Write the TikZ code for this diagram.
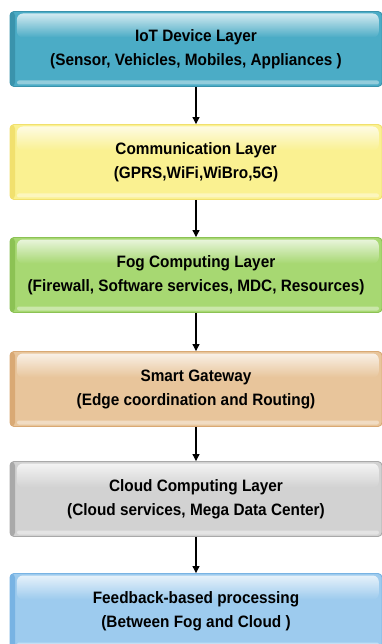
\documentclass[tikz,border=0pt]{standalone}
\usepackage{fontspec}
\setmainfont[FakeStretch=0.93]{Liberation Sans}
\usetikzlibrary{arrows.meta,fadings}

% layer palette: fill / rim
\definecolor{iotfill}{HTML}{4BACC6}\definecolor{iotrim}{HTML}{3A93AC}
\definecolor{comfill}{HTML}{FAF191}\definecolor{comrim}{HTML}{F1E06E}
\definecolor{fogfill}{HTML}{A7D872}\definecolor{fogrim}{HTML}{8CC254}
\definecolor{gwfill}{HTML}{E8C59B}\definecolor{gwrim}{HTML}{D9A974}
\definecolor{cldfill}{HTML}{D2D2D2}\definecolor{cldrim}{HTML}{A9A9A9}
\definecolor{fbfill}{HTML}{9DCBEE}\definecolor{fbrim}{HTML}{78B3E3}

\tikzset{
  layer/.style 2 args={
    draw=#2, fill=#1, line width=0.9pt, rounded corners=4pt,
    minimum width=372pt, minimum height=75pt, inner sep=0pt,
    align=center, text=black,
    font=\fontsize{16.5}{24}\selectfont\bfseries,
    path picture={
      % darker left rim
      \fill[#2] (path picture bounding box.north west) rectangle
        ([xshift=5pt]path picture bounding box.south west);
      % upper gloss
      \fill[white, opacity=0.75, path fading=south, rounded corners=6pt]
        ([xshift=7pt,yshift=-2pt]path picture bounding box.north west) rectangle
        ([xshift=-3pt,yshift=-26pt]path picture bounding box.north east);
      % lower gloss band
      \fill[white, opacity=0.4, rounded corners=2pt]
        ([xshift=7pt,yshift=2pt]path picture bounding box.south west) rectangle
        ([xshift=-3pt,yshift=6pt]path picture bounding box.south east);
    }
  },
  flow/.style={-{Triangle[length=7pt,width=7pt]}, line width=1.1pt, black}
}

\begin{document}
\begin{tikzpicture}[x=1pt,y=-1pt]
  \useasboundingbox (0,0) rectangle (382,644);

  \node[layer={iotfill}{iotrim}] (iot) at (196,49)
    {IoT Device Layer\\(Sensor, Vehicles, Mobiles, Appliances )};
  \node[layer={comfill}{comrim}] (comm) at (196,162)
    {Communication Layer\\(GPRS,WiFi,WiBro,5G)};
  \node[layer={fogfill}{fogrim}] (fog) at (196,275)
    {Fog Computing Layer\\(Firewall, Software services, MDC, Resources)};
  \node[layer={gwfill}{gwrim}] (gw) at (196,389)
    {Smart Gateway\\(Edge coordination and Routing)};
  \node[layer={cldfill}{cldrim}] (cloud) at (196,499)
    {Cloud Computing Layer\\(Cloud services, Mega Data Center)};
  \node[layer={fbfill}{fbrim}] (fb) at (196,611)
    {Feedback-based processing\\(Between Fog and Cloud )};

  \draw[flow] (iot) -- (comm);
  \draw[flow] (comm) -- (fog);
  \draw[flow] (fog) -- (gw);
  \draw[flow] (gw) -- (cloud);
  \draw[flow] (cloud) -- (fb);
\end{tikzpicture}
\end{document}
